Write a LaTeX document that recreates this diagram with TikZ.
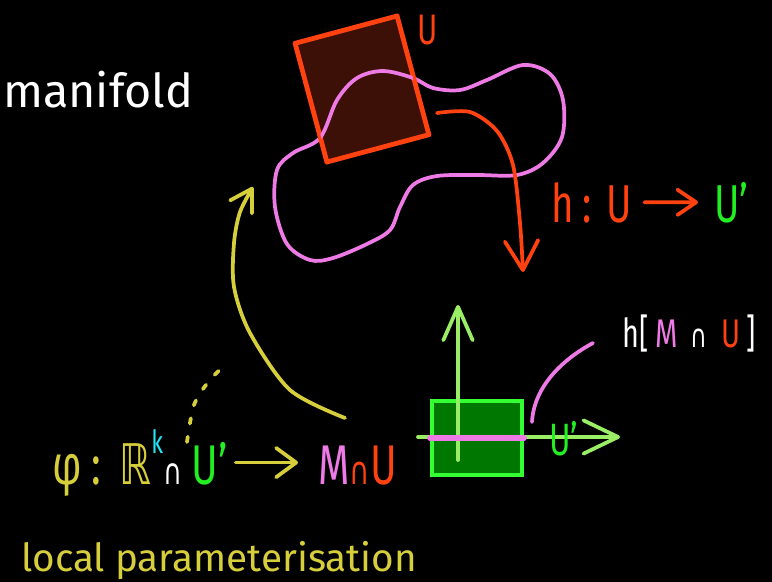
\documentclass[tikz,border=0pt]{standalone}
\usepackage{fontspec}
\setmainfont{Fira Sans}
\newfontfamily\hand[FakeStretch=0.72]{Fira Sans}
\newfontfamily\symfont[FakeStretch=0.72]{DejaVu Sans}
\usetikzlibrary{arrows.meta}

\definecolor{yel}{HTML}{D6CE3A}
\definecolor{pinkc}{HTML}{EE7AE6}
\definecolor{orng}{HTML}{FF4210}
\definecolor{grn}{HTML}{22EE22}
\definecolor{boxgrn}{HTML}{33FF33}
\definecolor{boxfill}{HTML}{007800}
\definecolor{axisgrn}{HTML}{99EE66}
\definecolor{cyanc}{HTML}{22E5F5}
\definecolor{sqfill}{HTML}{3C1006}

\begin{document}
\begin{tikzpicture}[
  x=0.75pt,
  y=-0.75pt,
  line/.style={line width=2.8pt,line cap=round,line join=round},
  pinkline/.style={line,draw=pinkc},
  orangeline/.style={line,draw=orng},
  yelline/.style={line,draw=yel},
  axisline/.style={line,draw=axisgrn},
  barb/.style 2 args={-{Straight Barb[length=#1,width=#2,round]}},
  words/.style={inner sep=0pt,anchor=base west,font=\fontsize{#1}{#1}\selectfont},
  scrawl/.style={inner sep=0pt,anchor=base west,font=\hand\fontsize{#1}{#1}\selectfont}
]

% black page
\fill[black] (0,0) rectangle (772,582);
\useasboundingbox (0,0) rectangle (772,582);

\node[words=35,text=white] (title) at (3,107) {manifold};

% the open set U on the manifold
\node[draw=orng,fill=sqfill,line width=2.4pt,line join=round,rotate=15,
  minimum width=78pt,minimum height=91pt,inner sep=0pt] (U) at (362,89) {};
\node[scrawl=32,text=orng] (Ulabel) at (417,44) {U};

\draw[pinkline] plot[smooth cycle,tension=0.55] coordinates {
  (320,138) (337,100) (357,78) (383,71) (413,78) (433,88) (460,90) (487,80)
  (523,65) (550,74) (563,100) (562,137) (543,163) (517,175) (477,175)
  (437,176) (413,185) (400,207) (390,230) (367,244) (333,258) (310,260)
  (287,244) (275,207) (277,170) (293,153)};
\draw[orangeline,line width=2.4pt] (U.north west) -- (U.north east) -- (U.south east) -- (U.south west) -- cycle;

% the map h
\draw[orangeline,barb={22pt}{25pt}] plot[smooth] coordinates
  {(437,113) (470,112) (497,131) (513,165) (520,223) (523,272)};
\node[scrawl=40,text=orng] (hdom) at (551,222) {h\,:\;U};
\node[scrawl=40,text=grn] (hcod) at (714,222) {U’};
\draw[orangeline,barb={14pt}{19pt},shorten <=9pt,shorten >=12pt] (hdom.east) -- (hcod.west);

% flat picture U'
\node[draw=boxgrn,fill=boxfill,line width=2.8pt,minimum width=68pt,minimum height=55pt,inner sep=0pt] (box) at (477,438) {};
\coordinate (vfoot) at (458,460);
\coordinate (vtip) at (458,305);
\coordinate (hfoot) at (418,437);
\coordinate (htip) at (620,437);
\draw[axisline,barb={25pt}{22pt}] (vfoot) -- (vtip);
\draw[axisline,barb={26pt}{25pt}] (hfoot) -- (htip);
\draw[pinkc,line width=4pt,line cap=round] (box.west) -- (box.east);
\node[scrawl=34,text=grn] (Uimg) at (549,455) {U’};

\node[scrawl=30,text=white] (himg) at (622,347)
  {h[\,{\color{pinkc}M}\,\,{\symfont\fontsize{24}{24}\selectfont ∩}\,\,{\color{orng}U}\,]};
\coordinate (pointfoot) at (532,422);
\coordinate (pointtip) at (593,343);
\draw[pinkline] (pointfoot) .. controls (534,385) and (565,358) .. (pointtip);

% local parameterisation
\node[scrawl=42,text=yel] (dom) at (52,484)
  {φ\,:\,\,{\symfont ℝ}\raisebox{0.55em}{\color{cyanc}\fontsize{24}{24}\selectfont k}{\color{white}\symfont\fontsize{27}{27}\selectfont ∩}\,{\color{grn}U’}};
\node[scrawl=42] (cod) at (318,484)
  {{\color{pinkc}M}{\color{orng}\symfont\fontsize{29}{29}\selectfont ∩}{\color{orng}U}};
\coordinate (codin) at (dom.east -| cod.west);
\draw[yelline,barb={15pt}{22pt},shorten <=6pt,shorten >=15pt] (dom.east) -- (codin);

\coordinate (liftfoot) at (345,418);
\coordinate (liftend) at (253,187);
\draw[yelline,barb={16pt}{19pt}] plot[smooth] coordinates
  {(liftfoot) (290,390) (250,333) (234,287) (234,243) (240,212) (liftend)};
\draw[yelline,dash pattern=on 4pt off 10pt] plot[smooth] coordinates
  {(187,442) (194,405) (209,381) (228,362)};

\node[words=29,text=yel] (caption) at (21,571) {local parameterisation};

\end{tikzpicture}
\end{document}
